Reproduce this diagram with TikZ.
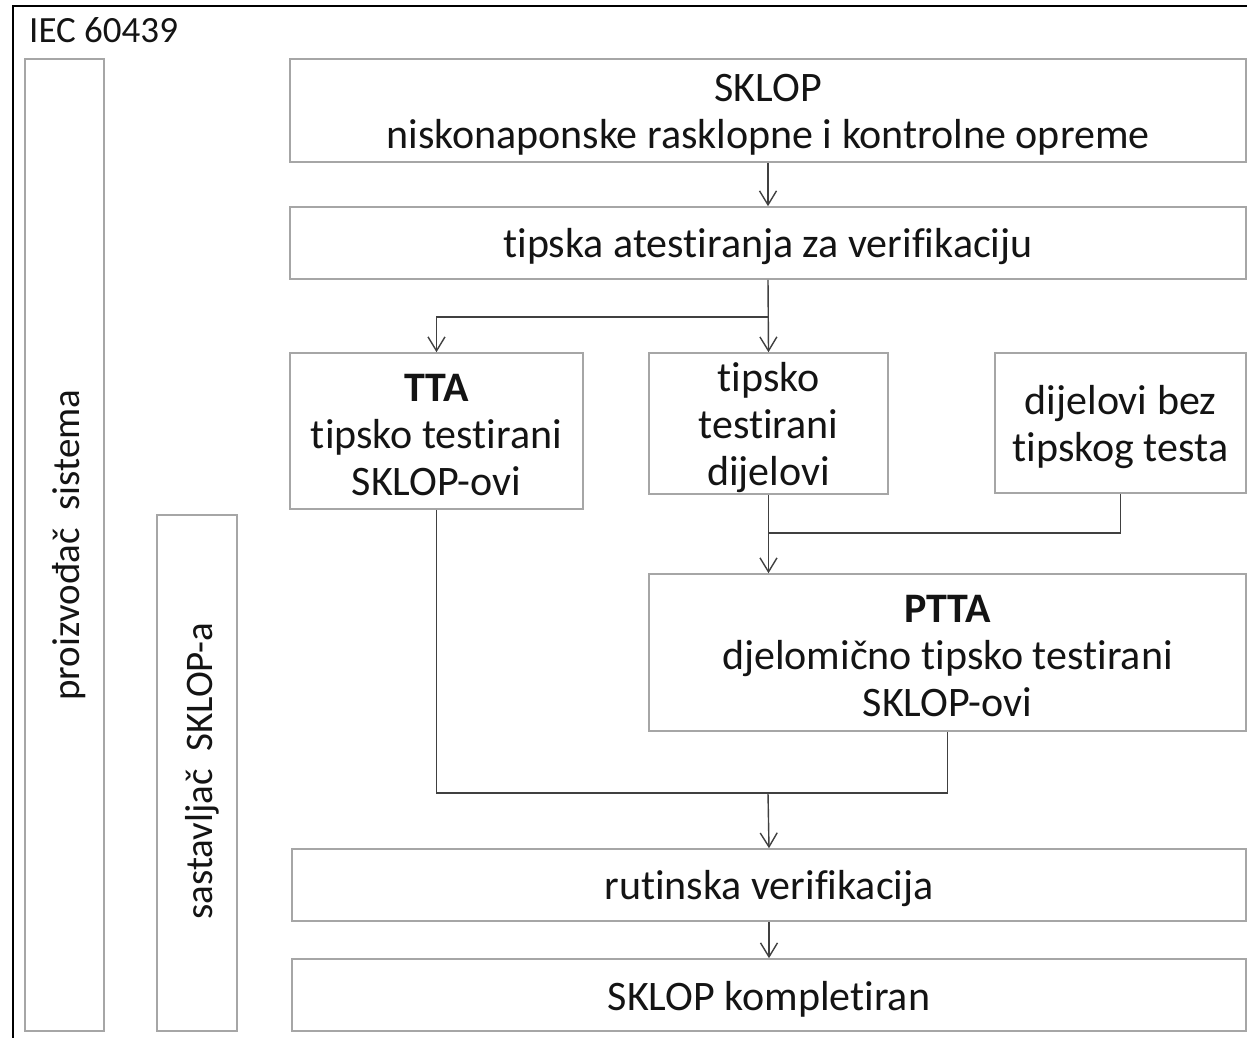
\documentclass[tikz,border=0pt]{standalone}
\usepackage{fontspec}
\setmainfont{Carlito}[Ligatures=NoCommon]
\usetikzlibrary{arrows.meta}
\definecolor{boxline}{HTML}{A6A6A6}
\definecolor{flowline}{HTML}{404040}
\definecolor{txt}{HTML}{141414}
\begin{document}
\begin{tikzpicture}[x=1pt,y=-1pt,
  box/.style={draw=boxline, line width=1.6pt, inner sep=0pt},
  boxtext/.style={inner sep=0pt, align=center, text=txt,
    font=\fontsize{42}{47}\selectfont},
  sidetext/.style={rotate=90, text=txt, font=\fontsize{39}{44}\selectfont},
  link/.style={draw=flowline, line width=1.4pt},
  arr/.style={link, -{Straight Barb[length=14pt,width=17pt,line width=1.4pt]}}]
\useasboundingbox (0,0) rectangle (1247,1038);
\clip (0,0) rectangle (1247,1038);

% outer frame of the standard
\draw[line width=2pt, black] (13,1050) -- (13,6) -- (1260,6);
\node[anchor=west, text=txt, font=\fontsize{37}{42}\selectfont, inner sep=0pt] (iec) at (29,30) {IEC 60439};

% side columns: who is responsible
\node[box, minimum width=79, minimum height=972] (proiz) at (64.5,545) {};
\node[sidetext] (proiz-t) at (69,545) {proizvođač\ \ sistema};
\node[box, minimum width=80, minimum height=516] (sast) at (197,773) {};
\node[sidetext] (sast-t) at (202,771) {sastavljač\ \ SKLOP-a};

% flow boxes
\node[box, minimum width=956, minimum height=103] (sklop) at (768,110.5) {};
\node[box, minimum width=956, minimum height=72] (tipska) at (768,243) {};
\node[box, minimum width=293, minimum height=156] (tta) at (436.5,431) {};
\node[box, minimum width=239, minimum height=141] (tdij) at (768.5,423.5) {};
\node[box, minimum width=251, minimum height=140] (bez) at (1120.5,423) {};
\node[box, minimum width=597, minimum height=157] (ptta) at (947.5,652.5) {};
\node[box, minimum width=954, minimum height=72] (rutin) at (769,885) {};
\node[box, minimum width=954, minimum height=72] (kompl) at (769,995) {};

% texts of the flow boxes
\node[boxtext] (sklop-t) at ([yshift=-4pt]sklop.center)
  {SKLOP\\niskonaponske rasklopne i kontrolne opreme};
\node[boxtext] (tipska-t) at ([yshift=-4pt]tipska.center)
  {tipska atestiranja za verifikaciju};
\node[boxtext] (tta-t) at ([yshift=-4pt]tta.center)
  {\textbf{TTA}\\tipsko testirani\\SKLOP-ovi};
\node[boxtext] (tdij-t) at ([yshift=-4pt]tdij.center)
  {tipsko\\testirani\\dijelovi};
\node[boxtext] (bez-t) at ([yshift=-4pt]bez.center)
  {dijelovi bez\\tipskog testa};
\node[boxtext] (ptta-t) at ([yshift=-4pt]ptta.center)
  {\textbf{PTTA}\\djelomično tipsko testirani\\SKLOP-ovi};
\node[boxtext] (rutin-t) at ([yshift=-4pt]rutin.center)
  {rutinska verifikacija};
\node[boxtext] (kompl-t) at ([yshift=-4pt]kompl.center)
  {SKLOP kompletiran};

% junction points of the connectors
\coordinate (j1) at (768,317);
\coordinate (j2) at (768,533);
\coordinate (j3) at (768,793);

% connectors
\draw[arr] (sklop.south) -- (tipska.north);
\draw[arr] (tipska.south) -- (tdij.north);
\draw[arr] (j1) -| (tta.north);
\draw[arr] (tdij.south) -- (tdij.south |- ptta.north);
\draw[link] (bez.south) |- (j2);
\draw[link] (tta.south) |- (ptta.south |- j3) -- (ptta.south);
\draw[arr] (j3) -- (rutin.north);
\draw[arr] (rutin.south) -- (kompl.north);
\end{tikzpicture}
\end{document}
